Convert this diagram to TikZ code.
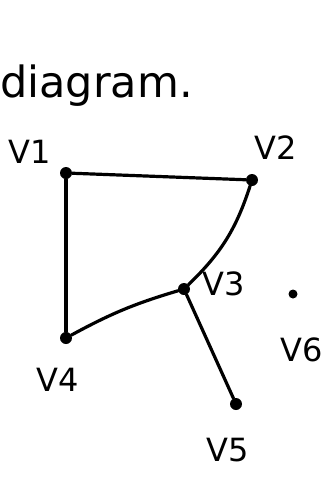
\documentclass[tikz,border=0pt]{standalone}
\usepackage{fontspec}
\setmainfont{DejaVu Sans}
\begin{document}
\begin{tikzpicture}[x=1pt,y=-1pt,
  vtx/.style={circle,fill=black,inner sep=0pt,minimum size=12pt},
  lbl/.style={font=\fontsize{32}{34}\selectfont,inner sep=0pt},
  edge/.style={line width=3.2pt,line cap=round}]
\useasboundingbox[fill=white] (0,0) rectangle (334,483);
\node[anchor=base west,inner sep=0pt,font=\fontsize{43}{46}\selectfont] (title) at (0,97) {diagram.};
\node[vtx] (v1) at (66,173) {};
\node[vtx] (v2) at (252,180) {};
\node[vtx] (v3) at (184,289) {};
\node[vtx] (v4) at (66,338) {};
\node[vtx] (v5) at (236,404) {};
\node[vtx,minimum size=9pt] (v6) at (293,294) {};
\node[lbl] (l1) at (30,152) {V1};
\node[lbl] (l2) at (276,148) {V2};
\node[lbl] (l3) at (224,284) {V3};
\node[lbl] (l4) at (58,380) {V4};
\node[lbl] (l5) at (228,450) {V5};
\node[lbl] (l6) at (302,350) {V6};
\draw[edge] (v1) -- (v2);
\draw[edge] (v1) -- (v4);
\draw[edge] (v2) to[bend left=14] (v3);
\draw[edge] (v3) to[bend right=6] (v4);
\draw[edge] (v3) -- (v5);
\end{tikzpicture}
\end{document}
